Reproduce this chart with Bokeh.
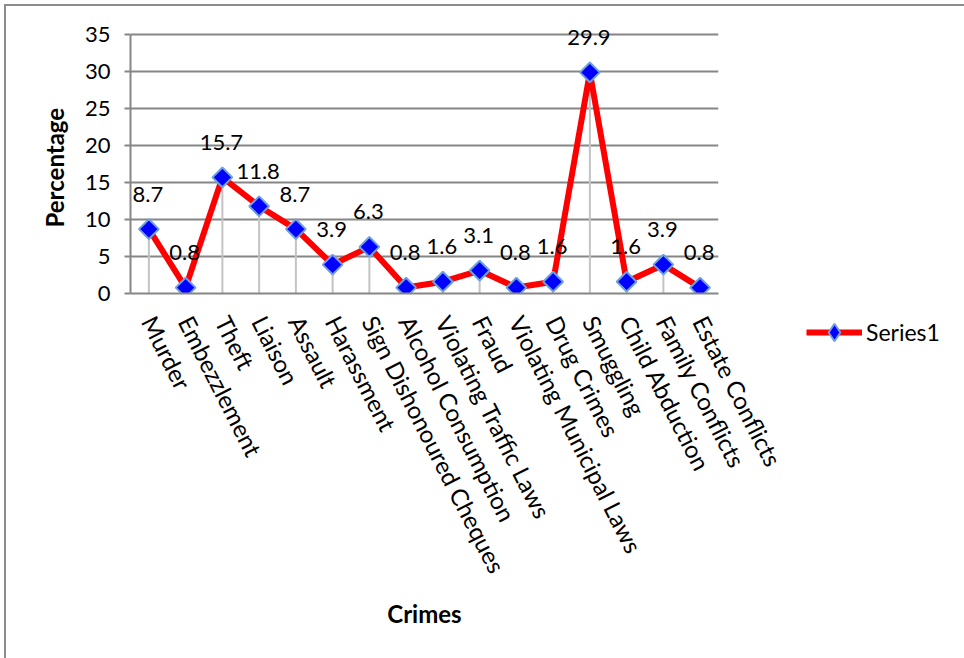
import math
from bokeh.plotting import figure
from bokeh.models import (FactorRange, Range1d, Legend, LegendItem,
                          ColumnDataSource, FixedTicker, Title)
from bokeh.embed import file_html
from bokeh.resources import INLINE
from bokeh.core.properties import value

crimes = ["Murder", "Embezzlement", "Theft", "Liaison", "Assault", "Harassment",
          "Sign Dishonoured Cheques", "Alcohol Consumption", "Violating Traffic Laws",
          "Fraud", "Violating Municipal Laws", "Drug Crimes", "Smuggling",
          "Child Abduction", "Family Conflicts", "Estate Conflicts"]
percentages = [8.7, 0.8, 15.7, 11.8, 8.7, 3.9, 6.3, 0.8, 1.6, 3.1, 0.8, 1.6,
               29.9, 1.6, 3.9, 0.8]
y_ticks = [0, 5, 10, 15, 20, 25, 30, 35]
series_name = "Series1"
x_title = "Crimes"
y_title = "Percentage"

FONT = "Lato"
GREY = "#868686"

src = ColumnDataSource(dict(
    x=crimes, y=percentages, base=[0] * len(crimes),
    lab=[f"{v:g}" for v in percentages]))

p = figure(x_range=FactorRange(*crimes), y_range=Range1d(0, 38),
           frame_width=588, frame_height=281,
           output_backend="svg", toolbar_location=None,
           min_border_left=124, min_border_top=6, min_border_right=248,
           min_border_bottom=367, margin=(4, 0, 0, 4))
p.styles = {"border-left": "2px solid #8c8c8c", "border-top": "2px solid #8c8c8c"}
p.outline_line_color = None
p.background_fill_color = "white"
p.border_fill_color = "white"

# drop lines
p.segment(x0="x", y0="base", x1="x", y1="y", source=src,
          line_color="#c3c3c3", line_width=2)
line_r = p.line("x", "y", source=src, line_color="#ff0000", line_width=6)
diam_r = p.scatter("x", "y", source=src, marker="diamond", size=18,
                   fill_color="#0000ff", line_color="#6f9fe0", line_width=2)
p.scatter("x", "y", source=src, marker="square", angle=math.pi / 4, size=14,
          fill_color="#0000ff", line_color="#6f9fe0", line_width=2)

p.text(x="x", y="y", text="lab", source=src, x_offset=-1, y_offset=-35,
       text_align="center", text_baseline="middle",
       text_font=value(FONT), text_font_size="22px", text_color="black")

# axes
xa = p.xaxis[0]
xa.axis_label = x_title
xa.axis_label_text_font = FONT
xa.axis_label_text_font_style = "bold"
xa.axis_label_text_font_size = "24px"
xa.axis_label_text_color = "black"
xa.axis_label_standoff = 12
xa.major_label_orientation = -63 * math.pi / 180
xa.major_label_text_font = FONT
xa.major_label_text_font_size = "24px"
xa.major_label_text_color = "black"
xa.major_label_standoff = 18
xa.major_tick_line_color = None
xa.minor_tick_line_color = None
xa.axis_line_color = GREY
xa.axis_line_width = 2

ya = p.yaxis[0]
ya.ticker = FixedTicker(ticks=y_ticks)
ya.bounds = (0, 35)
ya.major_label_text_font = FONT
ya.major_label_text_font_size = "22px"
ya.major_label_text_color = "black"
ya.major_label_standoff = 14
ya.major_tick_out = 6
ya.major_tick_in = 0
ya.major_tick_line_color = GREY
ya.major_tick_line_width = 2
ya.minor_tick_line_color = None
ya.axis_line_color = GREY
ya.axis_line_width = 2

p.add_layout(Title(text=y_title, align="left", offset=66, standoff=26,
                   text_font=FONT, text_font_style="bold",
                   text_font_size="24px", text_color="black"), "left")

p.xgrid.visible = False
p.ygrid.grid_line_color = GREY
p.ygrid.grid_line_width = 2
p.ygrid.bounds = (0, 35)

legend = Legend(items=[LegendItem(label=series_name, renderers=[line_r, diam_r])],
                location=(88, -61), glyph_width=56, glyph_height=44,
                label_standoff=4, padding=0, margin=0, spacing=0,
                border_line_color=None, background_fill_alpha=0,
                label_text_font=FONT, label_text_font_size="23px",
                label_text_color="black")
p.add_layout(legend, "right")

open("out.html", "w").write(file_html(p, INLINE))
